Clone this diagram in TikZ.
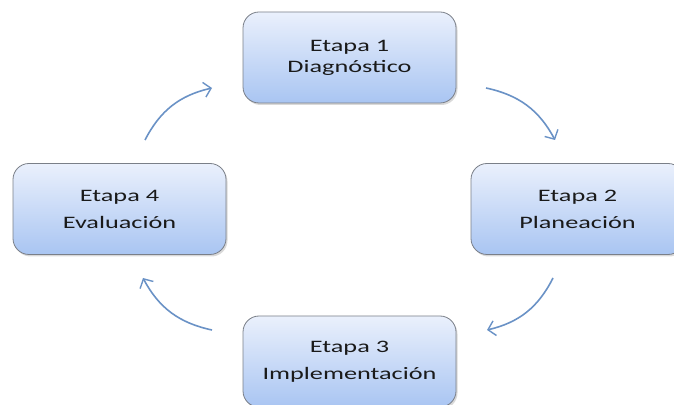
\documentclass[tikz,border=0pt]{standalone}
\usepackage{fontspec}
\setmainfont{Carlito}[FakeStretch=1.5]
\usetikzlibrary{arrows.meta,shadows}
\definecolor{boxtop}{HTML}{EAF0FC}
\definecolor{boxbot}{HTML}{A9C5F2}
\definecolor{boxline}{HTML}{7A7F88}
\definecolor{arrowc}{HTML}{6A92C6}
\definecolor{txt}{HTML}{1A1A1A}
\tikzset{
  stagebox/.style={draw=boxline, line width=0.8pt, rounded corners=16pt,
    top color=boxtop, bottom color=boxbot, minimum width=213pt, minimum height=91pt,
    align=center, text=txt, font=\fontsize{17.5}{21}\selectfont,
    drop shadow={opacity=0.3, shadow xshift=1.5pt, shadow yshift=-2pt}},
  cyclearrow/.style={draw=arrowc, line width=1.6pt, bend left=25,
    -{Straight Barb[length=7pt, width=15pt, line width=1.4pt]}}
}
\begin{document}
\begin{tikzpicture}[x=1pt,y=1pt]
\useasboundingbox (0,0) rectangle (674,404);
\node[stagebox] (e1) at (349.5,346.5) {Etapa 1\\Diagnóstico};
\node[stagebox] (e2) at (577.5,195) {Etapa 2\\[6pt]Planeación};
\node[stagebox] (e3) at (349.5,42.5) {Etapa 3\\[6pt]Implementación};
\node[stagebox] (e4) at (119.5,195) {Etapa 4\\[6pt]Evaluación};
\coordinate (a1s) at (486,316); \coordinate (a1e) at (555,264);
\coordinate (a2s) at (553,126); \coordinate (a2e) at (487,74);
\coordinate (a3s) at (212,74);  \coordinate (a3e) at (143,126);
\coordinate (a4s) at (145,264); \coordinate (a4e) at (212,316);
\draw[cyclearrow] (a1s) to (a1e);
\draw[cyclearrow] (a2s) to (a2e);
\draw[cyclearrow] (a3s) to (a3e);
\draw[cyclearrow] (a4s) to (a4e);
\end{tikzpicture}
\end{document}
